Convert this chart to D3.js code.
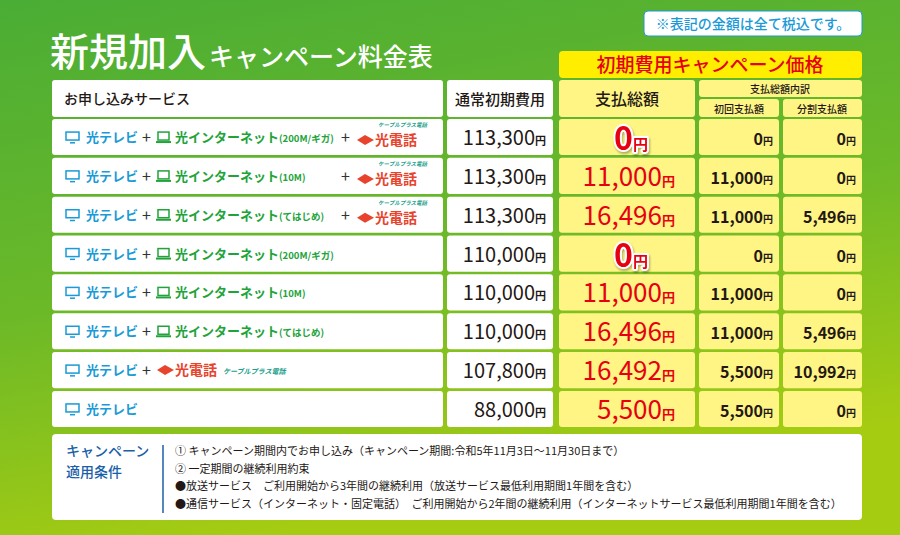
<!DOCTYPE html>
<html><head><meta charset="utf-8">
<script src="https://cdn.jsdelivr.net/npm/d3@7"></script>
<style>body{margin:0}svg{display:block}text{font-family:"Noto Sans CJK JP",sans-serif}</style>
</head><body><div id="chart"></div>
<script>
// data
const netPlans = ["200M/ギガ", "10M", "てはじめ", "200M/ギガ", "10M", "てはじめ", null, null];
const hasPhone = [true, true, true, false, false, false, true, false];
const normalFee = [113300, 113300, 113300, 110000, 110000, 110000, 107800, 88000];
const totalFee = [0, 11000, 16496, 0, 11000, 16496, 16492, 5500];
const firstFee = [0, 11000, 11000, 0, 11000, 11000, 5500, 5500];
const splitFee = [0, 0, 5496, 0, 0, 5496, 10992, 0];
const notes = [
  "① キャンペーン期間内でお申し込み（キャンペーン期間:令和5年11月3日〜11月30日まで）",
  "② 一定期間の継続利用約束",
  "●放送サービス　ご利用開始から3年間の継続利用（放送サービス最低利用期間1年間を含む）",
  "●通信サービス（インターネット・固定電話）　ご利用開始から2年間の継続利用（インターネットサービス最低利用期間1年間を含む）"
];

const W = 900, H = 535;
const svg = d3.select("#chart").append("svg").attr("width", W).attr("height", H);
const defs = svg.append("defs");
const g = defs.append("linearGradient").attr("id", "bg").attr("x1", 0).attr("y1", 0).attr("x2", 0.3).attr("y2", 1);
g.append("stop").attr("offset", "0%").attr("stop-color", "#4aad35");
g.append("stop").attr("offset", "55%").attr("stop-color", "#6cb928");
g.append("stop").attr("offset", "100%").attr("stop-color", "#a6cc12");
svg.append("rect").attr("width", W).attr("height", H).attr("fill", "url(#bg)");

const fmt = d3.format(",");
const y = d3.scaleBand().domain(d3.range(8)).range([119, 427]).paddingInner(0.07);

// title
svg.append("text").attr("x", 50).attr("y", 66).attr("fill", "#fff").attr("font-size", 39).attr("font-weight", 500).text("新規加入")
  .append("tspan").attr("font-size", 25).attr("dx", 3).text("キャンペーン料金表");
svg.append("rect").attr("x", 644).attr("y", 11).attr("width", 218).attr("height", 25).attr("rx", 4).attr("fill", "#fff").attr("stroke", "#1a9ad6");
svg.append("text").attr("x", 753).attr("y", 29).attr("text-anchor", "middle").attr("fill", "#1a9ad6").attr("font-size", 14).attr("font-weight", 500).text("※表記の金額は全て税込です。");

function cell(x0, x1, y0, h, fill) {
  svg.append("rect").attr("x", x0).attr("y", y0).attr("width", x1 - x0).attr("height", h).attr("rx", 3).attr("fill", fill);
}
const yel = "#fff584";
// headers
svg.append("rect").attr("x", 559).attr("y", 51).attr("width", 303).attr("height", 27).attr("rx", 4).attr("fill", "#ffee00");
svg.append("text").attr("x", 710).attr("y", 72).attr("text-anchor", "middle").attr("fill", "#e60012").attr("font-size", 19).attr("font-weight", 500).text("初期費用キャンペーン価格");
cell(52, 443, 80, 37, "#fff");
cell(447, 553, 80, 37, "#fff");
cell(559, 695, 80, 37, yel);
cell(699, 862, 80, 17, yel);
cell(699, 779, 99, 18, yel);
cell(783, 862, 99, 18, yel);
const hd = (x, yy, s, t, a) => svg.append("text").attr("x", x).attr("y", yy).attr("text-anchor", a || "middle").attr("font-size", s).attr("font-weight", 500).attr("fill", "#231815").text(t);
hd(64, 104, 14, "お申し込みサービス", "start");
hd(500, 105, 15, "通常初期費用");
hd(627, 105, 16, "支払総額");
hd(780, 93, 10, "支払総額内訳");
hd(739, 113, 10, "初回支払額");
hd(822, 113, 10, "分割支払額");

// rows
const num = (x, yy, v, size, color, yenSize, wt) => {
  const t = svg.append("text").attr("x", x).attr("y", yy).attr("text-anchor", "end").attr("fill", color)
    .attr("font-family", "'Liberation Sans Narrow','Roboto',sans-serif").attr("font-weight", wt).attr("font-size", size).text(fmt(v));
  t.append("tspan").attr("font-family", "'Noto Sans CJK JP'").attr("font-weight", 700).attr("font-size", yenSize).text("円");
  return t;
};
function tv(x, yy) {
  svg.append("rect").attr("x", x).attr("y", yy - 10).attr("width", 13).attr("height", 8).attr("fill", "none").attr("stroke", "#1a9ad6").attr("stroke-width", 1.5);
  svg.append("rect").attr("x", x + 4).attr("y", yy).attr("width", 5).attr("height", 1.5).attr("fill", "#1a9ad6");
}
function pc(x, yy) {
  svg.append("rect").attr("x", x + 1).attr("y", yy - 10).attr("width", 11).attr("height", 8).attr("fill", "none").attr("stroke", "#22a33a").attr("stroke-width", 1.5);
  svg.append("rect").attr("x", x - 1).attr("y", yy - 1).attr("width", 15).attr("height", 2).attr("fill", "#22a33a");
}
function phone(x, yy) {
  svg.append("path").attr("d", `M${x},${yy - 5}L${x + 8},${yy - 10}L${x + 17},${yy - 5}L${x + 8},${yy}Z`).attr("fill", "#e8432c");
  svg.append("text").attr("x", x + 18).attr("y", yy).attr("fill", "#e8432c").attr("font-size", 14).attr("font-weight", 700).text("光電話");
}
function cable(x, yy, s) {
  svg.append("text").attr("x", x).attr("y", yy).attr("fill", "#1aa08a").attr("font-size", s).attr("font-weight", 700).attr("font-style", "italic").text("ケーブルプラス電話");
}
const plus = (x, yy) => svg.append("text").attr("x", x).attr("y", yy).attr("font-size", 16).attr("fill", "#333").text("+");
d3.range(8).forEach(i => {
  const y0 = y(i), h = y.bandwidth(), base = y0 + h / 2 + 5;
  cell(52, 443, y0, h, "#fff");
  cell(447, 553, y0, h, "#fff");
  cell(559, 695, y0, h, yel);
  cell(699, 779, y0, h, yel);
  cell(783, 862, y0, h, yel);
  tv(66, base);
  svg.append("text").attr("x", 86).attr("y", base).attr("fill", "#1a9ad6").attr("font-size", 13).attr("font-weight", 700).text("光テレビ");
  if (netPlans[i]) {
    plus(142, base + 1);
    pc(157, base);
    svg.append("text").attr("x", 175).attr("y", base).attr("fill", "#22a33a").attr("font-size", 13).attr("font-weight", 700).text("光インターネット")
      .append("tspan").attr("font-size", 9.5).text(`(${netPlans[i]})`);
    if (hasPhone[i]) {
      plus(341, base + 1);
      phone(357, base + 3);
      cable(378, y0 + 8, 5.5);
    }
  } else if (hasPhone[i]) {
    plus(142, base + 1);
    phone(157, base);
    cable(223, base - 1, 7);
  }
  num(546, base + 3, normalFee[i], 20, "#231815", 11, 400);
  if (totalFee[i] === 0) {
    const t = num(648, base + 8, 0, 32, "#e60012", 15, 700);
    t.attr("stroke", "#fff").attr("stroke-width", 4).attr("paint-order", "stroke").attr("stroke-linejoin", "round")
      .style("filter", "drop-shadow(1px 2px 1px rgba(0,0,0,0.3))");
  } else {
    num(675, base + 5, totalFee[i], 26, "#e60012", 13, 400);
  }
  num(773, base + 3, firstFee[i], 16, "#231815", 10, 700);
  num(856, base + 3, splitFee[i], 16, "#231815", 10, 700);
});

// conditions
svg.append("rect").attr("x", 52).attr("y", 434).attr("width", 810).attr("height", 86).attr("rx", 4).attr("fill", "#fff");
svg.append("text").attr("x", 66).attr("y", 456).attr("fill", "#1a5fa8").attr("font-size", 14).attr("font-weight", 500).text("キャンペーン");
svg.append("text").attr("x", 66).attr("y", 477).attr("fill", "#1a5fa8").attr("font-size", 14).attr("font-weight", 500).text("適用条件");
svg.append("line").attr("x1", 163).attr("x2", 163).attr("y1", 445).attr("y2", 513).attr("stroke", "#1a5fa8").attr("stroke-width", 1.5);
svg.selectAll("text.note").data(notes).join("text").attr("class", "note")
  .attr("x", 175).attr("y", (d, i) => 455 + i * 17.5).attr("font-size", 11).attr("fill", "#231815").text(d => d);
</script></body></html>
